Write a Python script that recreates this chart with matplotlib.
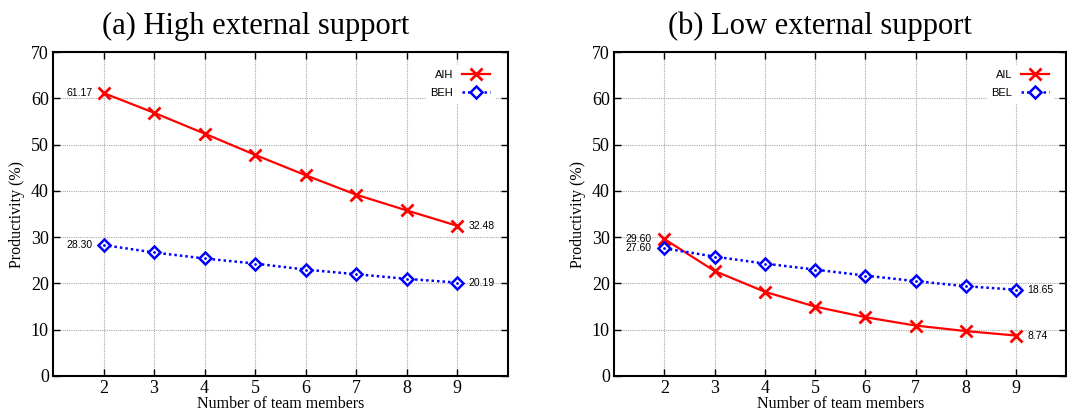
import matplotlib
matplotlib.use("Agg")
import matplotlib.pyplot as plt

members = [2, 3, 4, 5, 6, 7, 8, 9]
aih = [61.17, 56.9, 52.4, 47.8, 43.4, 39.2, 35.8, 32.48]
beh = [28.30, 26.7, 25.4, 24.3, 23.0, 22.0, 21.0, 20.19]
ail = [29.60, 22.7, 18.2, 15.0, 12.7, 10.9, 9.7, 8.74]
bel = [27.60, 25.8, 24.3, 23.0, 21.7, 20.5, 19.4, 18.65]
titles = ["(a) High external support", "(b) Low external support"]
labels_a = ["AIH", "BEH"]
labels_b = ["AIL", "BEL"]
yticks = [0, 10, 20, 30, 40, 50, 60, 70]

serif = "Liberation Serif"
sans = "Liberation Sans"

fig = plt.figure(figsize=(10.67, 4.12), dpi=100)
axes = [fig.add_axes([0.0497, 0.0874, 0.4260, 0.786]),
        fig.add_axes([0.5755, 0.0874, 0.4240, 0.786])]
title_x = [0.445, 0.455]

panels = [(aih, beh, labels_a), (ail, bel, labels_b)]

for ax, (red, blue, labs), title, tx in zip(axes, panels, titles, title_x):
    ax.plot(members, red, color="#ff0000", lw=1.6, marker="x", ms=8, mew=2,
            label=labs[0], zorder=3)
    ax.plot(members, blue, color="#0000ff", lw=1.8, ls=(0, (1, 1.2)), marker="D", ms=6.5,
            mew=1.8, mfc="white", mec="#0000ff", label=labs[1], zorder=3)
    ax.plot(members, blue, ls="none", marker=".", ms=2, color="#0000ff", zorder=4)
    ax.set_xlim(1, 10)
    ax.set_ylim(0, 70)
    ax.set_xticks(members)
    ax.set_yticks(yticks)
    ax.grid(True, color="#a8a8a8", ls=(0, (1, 1)), lw=0.8)
    ax.tick_params(direction="in", top=True, right=True, length=5, width=1,
                   labelsize=13)
    ax.tick_params(axis="y", pad=3)
    ax.tick_params(axis="x", pad=3)
    for lab in ax.get_xticklabels() + ax.get_yticklabels():
        lab.set_fontfamily(serif)
    for sp in ax.spines.values():
        sp.set_linewidth(1.5)
    ax.set_xlabel("Number of team members", fontfamily=serif, fontsize=11.5, labelpad=-1)
    ax.set_ylabel("Productivity (%)", fontfamily=serif, fontsize=11.5, labelpad=4)
    ax.set_title(title, fontfamily=serif, fontsize=22, pad=13, x=tx)
    ax.legend(loc="upper right", markerfirst=False, frameon=True,
              edgecolor="white", framealpha=1, fancybox=False,
              prop={"family": sans, "size": 8}, handlelength=2.5,
              borderaxespad=1.2, labelspacing=0.75)

ann = dict(fontfamily=sans, fontsize=7.5, va="center", textcoords="offset points")
a0, a1 = axes
a0.annotate(f"{aih[0]:.2f}", (members[0], aih[0]), xytext=(-8, 0), ha="right", **ann)
a0.annotate(f"{aih[-1]:.2f}", (members[-1], aih[-1]), xytext=(8, 0), ha="left", **ann)
a0.annotate(f"{beh[0]:.2f}", (members[0], beh[0]), xytext=(-8, 0), ha="right", **ann)
a0.annotate(f"{beh[-1]:.2f}", (members[-1], beh[-1]), xytext=(8, 0), ha="left", **ann)
a1.annotate(f"{ail[0]:.2f}", (members[0], ail[0]), xytext=(-9, 0), ha="right", **ann)
a1.annotate(f"{ail[-1]:.2f}", (members[-1], ail[-1]), xytext=(8, 0), ha="left", **ann)
a1.annotate(f"{bel[0]:.2f}", (members[0], bel[0]), xytext=(-9, 0), ha="right", **ann)
a1.annotate(f"{bel[-1]:.2f}", (members[-1], bel[-1]), xytext=(8, 0), ha="left", **ann)

fig.savefig("out.png", dpi=100)
